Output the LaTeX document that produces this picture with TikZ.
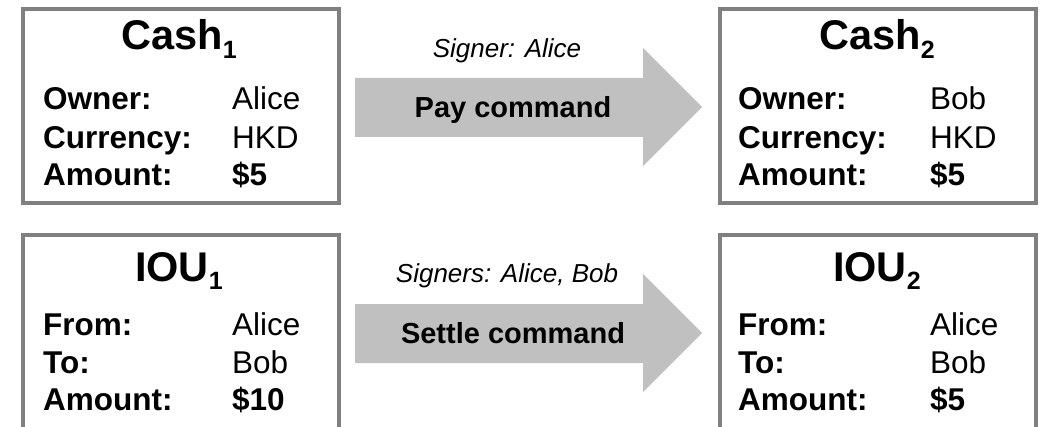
\documentclass[tikz,border=0pt]{standalone}
\usepackage{fontspec}
\setmainfont{Liberation Sans}
\definecolor{framegray}{HTML}{808080}
\definecolor{bandgray}{HTML}{C0C0C0}
% subscript index for the state titles
\newcommand\stateidx[1]{\raisebox{-0.2em}{\fontsize{25}{25}\selectfont #1}}
\begin{document}
\begin{tikzpicture}[x=1pt,y=-1pt,
  frame/.style={draw=framegray, line width=4pt, fill=white, inner sep=0pt,
                minimum width=316pt, minimum height=194pt},
  title/.style={font=\fontsize{41.5}{41.5}\bfseries\selectfont, anchor=base, inner sep=0pt},
  key/.style={font=\fontsize{31.5}{31.5}\bfseries\selectfont, anchor=base west, inner sep=0pt},
  val/.style={font=\fontsize{31.5}{31.5}\selectfont, anchor=base west, inner sep=0pt},
  valb/.style={font=\fontsize{31.5}{31.5}\bfseries\selectfont, anchor=base west, inner sep=0pt},
  band/.style={fill=bandgray},
  signer/.style={font=\fontsize{26}{26}\itshape\selectfont, anchor=base, inner sep=0pt},
  cmd/.style={font=\fontsize{29}{29}\bfseries\selectfont, anchor=base, inner sep=0pt}]
\useasboundingbox (0,0) rectangle (1048,427);
\clip (0,0) rectangle (1048,427);

% ---------- Cash states ----------
\node[frame] (cash1) at (181,106) {};
\node[title] (cash1t) at (179,50) {Cash\stateidx{1}};
\node[key] (cash1k1) at (43,110) {Owner:};
\node[key] (cash1k2) at (43,149) {Currency:};
\node[key] (cash1k3) at (43,186) {Amount:};
\node[val] (cash1v1) at (232,110) {Alice};
\node[val] (cash1v2) at (232,149) {HKD};
\node[valb] (cash1v3) at (232,186) {\$5};

\node[frame] (cash2) at (878,106) {};
\node[title] (cash2t) at (877,50) {Cash\stateidx{2}};
\node[key] (cash2k1) at (738,110) {Owner:};
\node[key] (cash2k2) at (738,149) {Currency:};
\node[key] (cash2k3) at (738,186) {Amount:};
\node[val] (cash2v1) at (930,110) {Bob};
\node[val] (cash2v2) at (930,149) {HKD};
\node[valb] (cash2v3) at (930,186) {\$5};

% ---------- Pay transition ----------
\fill[band] (355,78) -- (643,78) -- (643,48) -- (702,107) -- (643,166)
            -- (643,137) -- (355,137) -- cycle;
\node[signer] (paysig) at (507,58) {Signer: Alice};
\node[cmd] (paycmd) at (513,118) {Pay command};

% ---------- IOU states ----------
\node[frame] (iou1) at (181,332) {};
\node[title] (iou1t) at (179,281) {IOU\stateidx{1}};
\node[key] (iou1k1) at (43,335) {From:};
\node[key] (iou1k2) at (43,373) {To:};
\node[key] (iou1k3) at (43,410) {Amount:};
\node[val] (iou1v1) at (232,335) {Alice};
\node[val] (iou1v2) at (232,373) {Bob};
\node[valb] (iou1v3) at (232,410) {\$10};

\node[frame] (iou2) at (878,332) {};
\node[title] (iou2t) at (877,281) {IOU\stateidx{2}};
\node[key] (iou2k1) at (738,335) {From:};
\node[key] (iou2k2) at (738,373) {To:};
\node[key] (iou2k3) at (738,410) {Amount:};
\node[val] (iou2v1) at (930,335) {Alice};
\node[val] (iou2v2) at (930,373) {Bob};
\node[valb] (iou2v3) at (930,410) {\$5};

% ---------- Settle transition ----------
\fill[band] (355,304) -- (643,304) -- (643,274) -- (702,333) -- (643,392)
            -- (643,363) -- (355,363) -- cycle;
\node[signer] (setsig) at (507,283) {Signers: Alice, Bob};
\node[cmd] (setcmd) at (513,343) {Settle command};
\end{tikzpicture}
\end{document}
